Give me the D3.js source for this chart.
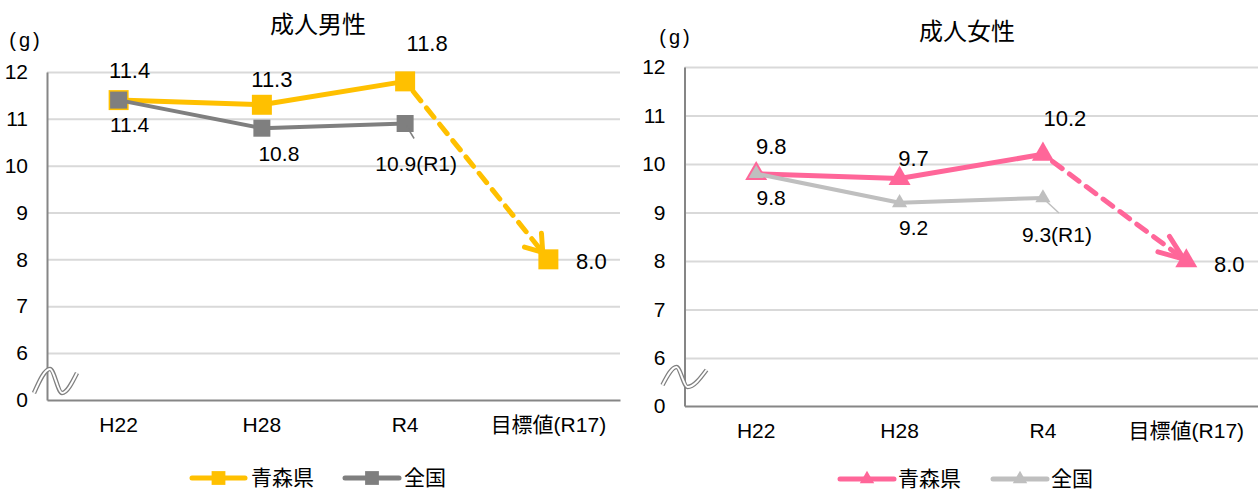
<!DOCTYPE html>
<html>
<head>
<meta charset="utf-8">
<script src="https://d3js.org/d3.v7.min.js"></script>
<style>
  body { margin: 0; background: #fff; }
  text { font-family: "Liberation Sans", "Noto Sans CJK JP", sans-serif; fill: #000; }
</style>
</head>
<body>
<svg id="chart" width="1258" height="492"></svg>
<script>
// data
const categories = ["H22", "H28", "R4", "目標値(R17)"];
const yTicks = [0, 6, 7, 8, 9, 10, 11, 12];
const seriesNames = ["青森県", "全国"];
const maleAomori = [11.4, 11.3, 11.8, 8.0];
const maleNational = [11.4, 10.8, 10.9];
const femaleAomori = [9.8, 9.7, 10.2, 8.0];
const femaleNational = [9.8, 9.2, 9.3];
const nationalNotes = ["", "", "(R1)"];

// layout / style per panel
const panels = [
    {
        title: "成人男性", aomori: maleAomori, national: maleNational,
        x0: 47, x1: 620, y0: 400, y6: 353, y12: 72,
        titleX: 318, titleY: 25, unitX: 26, unitY: 40,
        colorA: "#FFC000", colorN: "#7F7F7F",
        symbol: d3.symbolSquare, sizeA: 400, sizeN: 289, legendSize: 190,
        widthA: 5, widthN: 4,
        labA: [[11, -30], [10, -25], [22, -38], [43, 2]],
        labN: [[11, 25], [17, 25], [11, 40]],
        leader: [[1, 2], [9, 15]],
        arrow: { start: 13, tip: 9, arm: 19, angle: 35 },
        brk: [[-13, -7], [3, -31], [15, -7], [30, -27]],
        legendY: 478, legend: [[192, 245, 251], [345, 399, 404]]
    },
    {
        title: "成人女性", aomori: femaleAomori, national: femaleNational,
        x0: 684.5, x1: 1258, y0: 406, y6: 358, y12: 67,
        titleX: 967, titleY: 32, unitX: 676, unitY: 37,
        colorA: "#FF6699", colorN: "#BFBFBF",
        symbol: d3.symbolTriangle, sizeA: 210, sizeN: 100, legendSize: 90,
        widthA: 5, widthN: 4,
        labA: [[15, -27], [14, -20], [22, -36], [43, 3]],
        labN: [[15, 24], [14, 25], [14, 37]],
        leader: [[2, 2], [16, 15]],
        arrow: { start: 12, tip: 3, arm: 27, angle: 21 },
        brk: [[-22, -21], [-8, -39], [3, -19], [22, -36]],
        legendY: 479, legend: [[840, 894, 898], [993, 1047, 1051]]
    }
];

const svg = d3.select("#chart");

panels.forEach(p => {
    const g = svg.append("g");

    const x = d3.scaleBand().domain(categories).range([p.x0, p.x1]);
    const cx = c => x(c) + x.bandwidth() / 2;
    // broken axis: 0 sits one step below 6
    const y = d3.scaleLinear().domain([0, 6, 12]).range([p.y0, p.y6, p.y12]);

    // gridlines
    g.append("g")
        .attr("transform", `translate(${p.x0},0)`)
        .call(d3.axisLeft(y).tickValues(yTicks.filter(t => t > 0)).tickSize(-(p.x1 - p.x0)).tickFormat(""))
        .call(a => a.select(".domain").remove())
        .call(a => a.selectAll("line").attr("stroke", "#D9D9D9").attr("stroke-width", 2));

    // y axis
    g.append("g")
        .attr("transform", `translate(${p.x0},0)`)
        .call(d3.axisLeft(y).tickValues(yTicks).tickSize(0).tickPadding(19))
        .call(a => a.select(".domain").attr("stroke", "#868686").attr("stroke-width", 2))
        .call(a => a.selectAll("text").attr("font-size", 21).attr("font-family", "Liberation Sans, Noto Sans CJK JP"));

    // x axis
    g.append("g")
        .attr("transform", `translate(0,${p.y0})`)
        .call(d3.axisBottom(x).tickSize(0).tickPadding(17))
        .call(a => a.select(".domain").attr("stroke", "#868686").attr("stroke-width", 2))
        .call(a => a.selectAll("text").attr("font-size", 21).attr("font-family", "Liberation Sans, Noto Sans CJK JP"));

    // axis break mark
    const brk = d3.line().curve(d3.curveMonotoneX)
        .x(d => p.x0 + d[0]).y(d => p.y0 + d[1]);
    g.append("path").attr("d", brk(p.brk)).attr("fill", "none")
        .attr("stroke", "#808080").attr("stroke-width", 4.5);
    g.append("path").attr("d", brk(p.brk)).attr("fill", "none")
        .attr("stroke", "#fff").attr("stroke-width", 2);

    // title and unit
    g.append("text").attr("x", p.titleX).attr("y", p.titleY).attr("dy", "0.35em")
        .attr("text-anchor", "middle").attr("font-size", 24)
        .attr("font-family", "Noto Sans CJK JP").text(p.title);
    g.append("text").attr("x", p.unitX).attr("y", p.unitY).attr("dy", "0.35em")
        .attr("text-anchor", "middle").attr("font-size", 20).attr("letter-spacing", 3)
        .text("(g)");

    const aPts = p.aomori.map((v, i) => [cx(categories[i]), y(v)]);
    const nPts = p.national.map((v, i) => [cx(categories[i]), y(v)]);
    const line = d3.line();

    // Aomori series (solid up to R4)
    g.append("path").attr("d", line(aPts.slice(0, 3))).attr("fill", "none")
        .attr("stroke", p.colorA).attr("stroke-width", p.widthA).attr("stroke-linejoin", "round");

    // dashed arrow R4 -> target
    const [sx, sy] = aPts[2], [tx, ty] = aPts[3];
    const len = Math.hypot(tx - sx, ty - sy);
    const ux = (tx - sx) / len, uy = (ty - sy) / len;
    const tip = [tx - ux * p.arrow.tip, ty - uy * p.arrow.tip];
    g.append("path")
        .attr("d", line([[sx + ux * p.arrow.start, sy + uy * p.arrow.start], tip]))
        .attr("stroke", p.colorA).attr("stroke-width", p.widthA)
        .attr("stroke-dasharray", "12,9").attr("stroke-linecap", "round");
    const back = Math.atan2(-uy, -ux);
    [-1, 1].forEach(s => {
        const ang = back + s * p.arrow.angle * Math.PI / 180;
        g.append("path")
            .attr("d", line([tip, [tip[0] + Math.cos(ang) * p.arrow.arm, tip[1] + Math.sin(ang) * p.arrow.arm]]))
            .attr("stroke", p.colorA).attr("stroke-width", p.widthA).attr("stroke-linecap", "round");
    });

    g.selectAll(".mA").data(aPts).join("path")
        .attr("transform", d => `translate(${d[0]},${d[1]})`)
        .attr("d", d3.symbol().type(p.symbol).size(p.sizeA)).attr("fill", p.colorA);

    // national series
    g.append("path").attr("d", line(nPts)).attr("fill", "none")
        .attr("stroke", p.colorN).attr("stroke-width", p.widthN).attr("stroke-linejoin", "round");
    g.selectAll(".mN").data(nPts).join("path")
        .attr("transform", d => `translate(${d[0]},${d[1]})`)
        .attr("d", d3.symbol().type(p.symbol).size(p.sizeN)).attr("fill", p.colorN);

    // leader line for R1 label
    const r1 = nPts[2];
    g.append("path")
        .attr("d", line(p.leader.map(o => [r1[0] + o[0], r1[1] + o[1]])))
        .attr("stroke", p.colorN).attr("stroke-width", 1.5);

    // data labels
    g.selectAll(".lA").data(p.aomori).join("text")
        .attr("x", (v, i) => aPts[i][0] + p.labA[i][0])
        .attr("y", (v, i) => aPts[i][1] + p.labA[i][1])
        .attr("dy", "0.35em").attr("text-anchor", "middle").attr("font-size", 22)
        .text(v => v.toFixed(1));
    g.selectAll(".lN").data(p.national).join("text")
        .attr("x", (v, i) => nPts[i][0] + p.labN[i][0])
        .attr("y", (v, i) => nPts[i][1] + p.labN[i][1])
        .attr("dy", "0.35em").attr("text-anchor", "middle").attr("font-size", 21)
        .text((v, i) => v.toFixed(1) + nationalNotes[i]);

    // legend
    seriesNames.forEach((name, i) => {
        const [l0, l1, tx0] = p.legend[i];
        const col = i === 0 ? p.colorA : p.colorN;
        g.append("path").attr("d", line([[l0, p.legendY], [l1, p.legendY]]))
            .attr("stroke", col).attr("stroke-width", 5).attr("stroke-linecap", "round");
        g.append("path").attr("transform", `translate(${(l0 + l1) / 2},${p.legendY})`)
            .attr("d", d3.symbol().type(p.symbol).size(p.legendSize)).attr("fill", col);
        g.append("text").attr("x", tx0).attr("y", p.legendY).attr("dy", "0.35em")
            .attr("font-size", 21).attr("font-family", "Noto Sans CJK JP").text(name);
    });
});
</script>
</body>
</html>
